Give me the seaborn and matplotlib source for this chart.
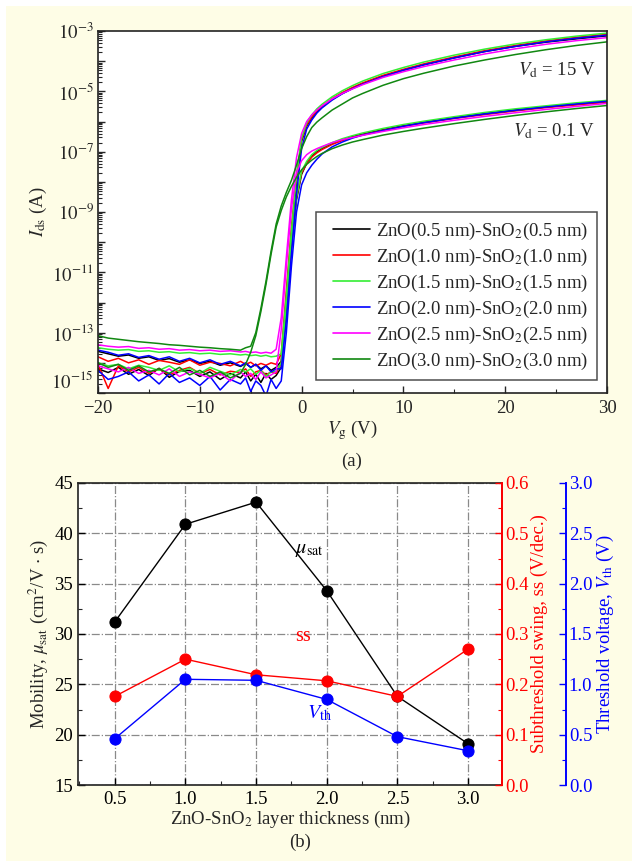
import matplotlib
matplotlib.use("Agg")
import numpy as np
import pandas as pd
import seaborn as sns
import matplotlib.pyplot as plt
import matplotlib.transforms as mtransforms
from matplotlib.lines import Line2D
from matplotlib.patches import Rectangle
from matplotlib.legend_handler import HandlerLine2D
from matplotlib.ticker import FixedLocator, FuncFormatter, MultipleLocator, LogLocator

sns.set_style("ticks")
plt.rcParams["font.family"] = ["Liberation Serif", "DejaVu Serif"]
plt.rcParams["mathtext.fontset"] = "stix"

# ---------------- data: panel (a) -----------------
VG = [-20, -19, -18, -17, -16, -15, -14, -13, -12, -11, -10, -9, -8, -7, -6,
      -5.5, -5, -4.5, -4, -3.5, -3, -2.5, -2, -1.5, -1, -0.5,
      0, 0.5, 1, 1.5, 2, 3, 4, 5, 6, 8, 10, 12, 15, 18, 21, 24, 27, 30]

# log10(Ids)
L05_hi = [-13.62, -13.70, -13.78, -13.74, -13.85, -13.80, -13.92, -13.86, -13.98, -13.90, -14.02, -13.95, -14.08, -14.00, -14.12,
          -14.02, -14.15, -14.05, -14.20, -14.10, -14.25, -14.15, -13.95, -11.9, -9.8, -8.0,
          -6.65, -6.15, -5.88, -5.68, -5.52, -5.27, -5.07, -4.90, -4.75, -4.50, -4.30, -4.12, -3.89, -3.68, -3.51, -3.37, -3.26, -3.16]
L05_lo = [-14.20, -14.32, -14.15, -14.38, -14.22, -14.42, -14.18, -14.48, -14.28, -14.25, -14.45, -14.30, -14.55, -14.35, -14.50,
          -14.30, -14.60, -14.38, -14.65, -14.35, -14.55, -14.42, -14.15, -12.2, -10.1, -8.6,
          -7.75, -7.38, -7.15, -7.00, -6.90, -6.73, -6.60, -6.50, -6.42, -6.27, -6.14, -6.03, -5.88, -5.74, -5.62, -5.52, -5.43, -5.34]
L10_hi = [-13.80, -13.95, -13.85, -14.00, -13.90, -14.05, -13.92, -13.98, -14.05, -13.90, -14.08, -13.98, -14.02, -14.10, -13.95,
          -14.05, -13.98, -14.10, -14.02, -14.08, -14.00, -14.05, -13.70, -11.6, -9.5, -7.8,
          -6.60, -6.12, -5.85, -5.65, -5.50, -5.24, -5.04, -4.87, -4.72, -4.47, -4.27, -4.09, -3.86, -3.65, -3.48, -3.33, -3.21, -3.11]
L10_lo = [-14.05, -14.85, -14.10, -14.30, -14.15, -14.35, -14.20, -14.40, -14.25, -14.15, -14.35, -14.22, -14.40, -14.28, -14.32,
          -14.20, -14.45, -14.30, -14.25, -14.40, -14.30, -14.35, -14.00, -12.0, -9.9, -8.5,
          -7.70, -7.40, -7.18, -7.04, -6.93, -6.76, -6.63, -6.53, -6.44, -6.29, -6.16, -6.05, -5.90, -5.77, -5.65, -5.54, -5.45, -5.36]
L15_hi = [-13.50, -13.55, -13.58, -13.56, -13.62, -13.60, -13.65, -13.63, -13.68, -13.66, -13.70, -13.68, -13.72, -13.70, -13.74,
          -13.72, -13.76, -13.74, -13.78, -13.75, -13.80, -13.78, -13.70, -11.8, -9.6, -7.8,
          -6.55, -6.05, -5.78, -5.58, -5.43, -5.18, -4.98, -4.81, -4.66, -4.41, -4.21, -4.03, -3.80, -3.60, -3.43, -3.29, -3.17, -3.07]
L15_lo = [-14.00, -14.10, -14.05, -14.20, -14.08, -14.15, -14.25, -14.10, -14.30, -14.18, -14.35, -14.15, -14.28, -14.40, -14.22,
          -14.30, -14.20, -14.38, -14.25, -14.45, -14.30, -14.28, -14.00, -12.1, -9.9, -8.5,
          -7.65, -7.32, -7.10, -6.96, -6.86, -6.70, -6.57, -6.47, -6.38, -6.23, -6.10, -5.99, -5.84, -5.70, -5.58, -5.48, -5.38, -5.30]
L20_hi = [-13.58, -13.65, -13.75, -13.70, -13.82, -13.76, -13.88, -13.80, -13.95, -13.85, -14.00, -13.90, -14.05, -13.95, -14.10,
          -14.00, -14.15, -14.05, -14.25, -14.10, -14.30, -14.20, -14.20, -12.6, -10.4, -8.4,
          -6.90, -6.25, -5.95, -5.72, -5.55, -5.29, -5.08, -4.91, -4.76, -4.51, -4.30, -4.12, -3.89, -3.68, -3.51, -3.36, -3.24, -3.14]
L20_lo = [-14.25, -14.55, -14.45, -14.30, -14.60, -14.40, -14.70, -14.35, -14.65, -14.50, -14.75, -14.45, -14.90, -14.55, -14.70,
          -14.50, -14.95, -14.60, -14.75, -15.10, -14.55, -14.85, -14.60, -13.0, -10.8, -9.0,
          -8.10, -7.70, -7.45, -7.25, -7.08, -6.84, -6.68, -6.55, -6.45, -6.30, -6.16, -6.04, -5.89, -5.75, -5.63, -5.52, -5.42, -5.33]
L25_hi = [-13.40, -13.45, -13.48, -13.46, -13.52, -13.50, -13.55, -13.53, -13.58, -13.56, -13.60, -13.58, -13.62, -13.60, -13.64,
          -13.62, -13.66, -13.64, -13.68, -13.65, -13.68, -13.55, -12.5, -10.5, -8.6, -7.2,
          -6.40, -6.00, -5.78, -5.62, -5.48, -5.25, -5.07, -4.92, -4.78, -4.54, -4.35, -4.18, -3.96, -3.76, -3.59, -3.44, -3.32, -3.22]
L25_lo = [-14.10, -14.20, -14.30, -14.15, -14.35, -14.25, -14.40, -14.20, -14.45, -14.30, -14.38, -14.50, -14.35, -14.60, -14.30,
          -14.45, -14.35, -14.55, -14.30, -14.50, -14.40, -14.30, -12.9, -10.8, -8.9, -7.7,
          -7.30, -7.10, -6.98, -6.90, -6.83, -6.70, -6.60, -6.53, -6.46, -6.33, -6.21, -6.10, -5.96, -5.83, -5.71, -5.60, -5.50, -5.40]
L30_hi = [-13.10, -13.18, -13.22, -13.26, -13.30, -13.33, -13.36, -13.40, -13.42, -13.45, -13.48, -13.50, -13.53, -13.55, -13.58,
          -13.50, -13.45, -13.00, -12.20, -11.30, -10.30, -9.40, -8.80, -8.35, -7.95, -7.45,
          -6.90, -6.50, -6.20, -6.02, -5.88, -5.62, -5.42, -5.22, -5.07, -4.80, -4.58, -4.40, -4.16, -3.96, -3.78, -3.62, -3.48, -3.36]
L30_lo = [-14.00, -14.15, -14.05, -14.25, -14.10, -14.30, -14.20, -14.35, -14.15, -14.40, -14.25, -14.45, -14.30, -14.50, -14.35,
          -14.05, -13.65, -13.10, -12.30, -11.40, -10.40, -9.50, -8.95, -8.50, -8.15, -7.85,
          -7.60, -7.42, -7.28, -7.16, -7.06, -6.90, -6.78, -6.68, -6.60, -6.45, -6.33, -6.22, -6.07, -5.93, -5.80, -5.68, -5.57, -5.47]

DEVICES = ["ZnO(0.5 nm)-SnO$_2$(0.5 nm)", "ZnO(1.0 nm)-SnO$_2$(1.0 nm)",
           "ZnO(1.5 nm)-SnO$_2$(1.5 nm)", "ZnO(2.0 nm)-SnO$_2$(2.0 nm)",
           "ZnO(2.5 nm)-SnO$_2$(2.5 nm)", "ZnO(3.0 nm)-SnO$_2$(3.0 nm)"]
COLORS = ["#000000", "#FF0000", "#33EE33", "#0000FF", "#FF00FF", "#118811"]
CURVES_HI = [L05_hi, L10_hi, L15_hi, L20_hi, L25_hi, L30_hi]
CURVES_LO = [L05_lo, L10_lo, L15_lo, L20_lo, L25_lo, L30_lo]

# ---------------- data: panel (b) -----------------
THICK = [0.5, 1.0, 1.5, 2.0, 2.5, 3.0]
MOBILITY = [31.2, 40.9, 43.1, 34.3, 23.8, 19.1]
SS = [0.176, 0.250, 0.219, 0.207, 0.176, 0.270]
VTH = [0.46, 1.05, 1.04, 0.85, 0.48, 0.34]

# ---------------- figure -----------------
W, H = 632, 861
BG = "#FEFDE6"
fig = plt.figure(figsize=(W / 100, H / 100), dpi=100)
fig.patch.set_facecolor("white")
fig.add_artist(Rectangle((6 / W, 0), 1, 1 - 6 / H, transform=fig.transFigure,
                         facecolor=BG, edgecolor="none", zorder=-10))

FS = 13.5

# ---------- panel (a)
axa = fig.add_axes([98 / W, 1 - 393 / H, (607 - 98) / W, (393 - 31) / H])
axa.set_facecolor("white")
rows = []
for name, hi, lo in zip(DEVICES, CURVES_HI, CURVES_LO):
    rows.append(pd.DataFrame({"Vg": VG, "Ids": np.power(10.0, hi), "device": name, "Vd": "15"}))
    rows.append(pd.DataFrame({"Vg": VG, "Ids": np.power(10.0, lo), "device": name, "Vd": "0.1"}))
dfa = pd.concat(rows, ignore_index=True)

sns.lineplot(data=dfa, x="Vg", y="Ids", hue="device", units="Vd", estimator=None,
             hue_order=DEVICES, palette=dict(zip(DEVICES, COLORS)), sort=False,
             legend=False, lw=1.1, ax=axa)
axa.set_yscale("log")
axa.set_xlim(-20, 30)
axa.set_ylim(1e-15, 1e-3)
axa.xaxis.set_major_locator(MultipleLocator(10))
axa.xaxis.set_minor_locator(MultipleLocator(5))
axa.yaxis.set_major_locator(FixedLocator(10.0 ** np.arange(-15, -2)))
axa.yaxis.set_minor_locator(LogLocator(base=10, subs=np.arange(2, 10), numticks=100))


def yfmt(v, pos):
    e = int(round(np.log10(v)))
    # the bottom label (10^-15) is drawn separately, lifted off the corner
    return r"$10^{%d}$" % e if (e % 2 and e > -15) else ""


axa.yaxis.set_major_formatter(FuncFormatter(yfmt))
axa.yaxis.set_minor_formatter(FuncFormatter(lambda v, p: ""))
axa.tick_params(axis="both", which="major", direction="in", length=5, width=1,
                labelsize=FS, top=False, right=False)
axa.tick_params(axis="x", which="major", pad=5)
axa.tick_params(axis="y", which="major", pad=3)
axa.tick_params(axis="both", which="minor", direction="in", length=3, width=0.8,
                top=False, right=False)
for s in axa.spines.values():
    s.set_linewidth(1.2)
    s.set_color("#222222")
blend = mtransforms.blended_transform_factory(axa.transAxes, axa.transData)
axa.text(-0.0095, 10 ** -14.62, r"$10^{-15}$", transform=blend, ha="right", va="center",
         fontsize=FS)
axa.set_xlabel(r"$V_{\rm g}$ (V)", fontsize=FS, labelpad=1)
axa.set_ylabel(r"$I_{\rm ds}$ (A)", fontsize=FS, labelpad=2)
axa.text(28.9, 10 ** -4.29, r"$V_{\rm d}$ = 15 V", ha="right", va="center", fontsize=13.5)
axa.text(28.9, 10 ** -6.31, r"$V_{\rm d}$ = 0.1 V", ha="right", va="center", fontsize=13.5)
handles = [Line2D([0], [0], color=c, lw=1.2) for c in COLORS]
leg = axa.legend(handles, DEVICES, loc="upper right", bbox_to_anchor=(0.98, 0.5),
                 fontsize=FS, frameon=True, fancybox=False, handlelength=2.45,
                 handletextpad=0.32, labelspacing=0.26, borderpad=0.45, borderaxespad=0,
                 handler_map={Line2D: HandlerLine2D(xpad=0.45)})
leg.get_frame().set_edgecolor("#222222")
leg.get_frame().set_linewidth(1.1)
fig.text(352 / W, 1 - 461 / H, "(a)", ha="center", va="center", fontsize=FS)

# ---------- panel (b)
axb = fig.add_axes([78 / W, 1 - 785 / H, (502 - 78) / W, (785 - 483) / H])
axb.set_facecolor("white")
ax2 = axb.twinx()
ax3 = axb.twinx()
ax3.spines["right"].set_position(("axes", (566 - 78) / (502 - 78)))
for k in ("left", "top", "bottom"):
    ax3.spines[k].set_visible(False)

dfb = pd.DataFrame({"thickness": THICK, "mobility": MOBILITY, "ss": SS, "vth": VTH})
axb.grid(True, which="major", color="#8a8a8a", linestyle="-.", lw=0.9)
axb.set_axisbelow(True)
sns.lineplot(data=dfb, x="thickness", y="mobility", ax=axb, color="black", lw=1.0,
             marker="o", markersize=8, markeredgecolor="black")
sns.lineplot(data=dfb, x="thickness", y="ss", ax=ax2, color="#FF0000", lw=1.0,
             marker="o", markersize=8, markeredgecolor="#FF0000")
sns.lineplot(data=dfb, x="thickness", y="vth", ax=ax3, color="#0000FF", lw=1.0,
             marker="o", markersize=8, markeredgecolor="#0000FF")

axb.set_xlim(0.24, 3.24)
axb.set_ylim(15, 45)
ax2.set_ylim(0, 0.6)
ax3.set_ylim(0, 3.0)
axb.xaxis.set_major_locator(FixedLocator(THICK))
axb.xaxis.set_minor_locator(MultipleLocator(0.25))
axb.xaxis.set_major_formatter(FuncFormatter(lambda v, p: "%.1f" % v))
axb.yaxis.set_major_locator(MultipleLocator(5))
axb.yaxis.set_minor_locator(MultipleLocator(2.5))
ax2.yaxis.set_major_locator(MultipleLocator(0.1))
ax2.yaxis.set_minor_locator(MultipleLocator(0.05))
ax2.yaxis.set_major_formatter(FuncFormatter(lambda v, p: "%.1f" % v))
ax3.yaxis.set_major_locator(MultipleLocator(0.5))
ax3.yaxis.set_minor_locator(MultipleLocator(0.25))
ax3.yaxis.set_major_formatter(FuncFormatter(lambda v, p: "%.1f" % v))

axb.tick_params(axis="both", which="major", direction="in", length=5, width=1,
                labelsize=FS, top=False, right=False, colors="black")
axb.tick_params(axis="x", which="major", pad=4)
axb.tick_params(axis="both", which="minor", direction="in", length=3, width=0.8,
                top=False, right=False)
ax2.tick_params(axis="y", which="major", direction="in", length=5, width=1,
                labelsize=FS, colors="#FF0000", pad=2)
ax2.tick_params(axis="y", which="minor", direction="in", length=3, width=0.8, colors="#FF0000")
ax3.tick_params(axis="y", which="major", direction="in", length=5, width=1,
                labelsize=FS, colors="#0000FF", pad=2)
ax3.tick_params(axis="y", which="minor", direction="in", length=3, width=0.8, colors="#0000FF")
for s in axb.spines.values():
    s.set_linewidth(1.2)
    s.set_color("#222222")
ax2.spines["right"].set_color("#FF0000")
ax2.spines["right"].set_linewidth(1.4)
ax3.spines["right"].set_color("#0000FF")
ax3.spines["right"].set_linewidth(1.4)
for k in ("left", "top", "bottom"):
    ax2.spines[k].set_visible(False)

axb.set_xlabel("ZnO-SnO$_2$ layer thickness (nm)", fontsize=FS, labelpad=1)
axb.set_ylabel(r"Mobility, $\mu_{\rm sat}$ (cm$^2$/V $\cdot$ s)", fontsize=FS, labelpad=3)
ax2.set_ylabel("Subthreshold swing, ss (V/dec.)", fontsize=FS, color="#FF0000", labelpad=2)
ax3.set_ylabel(r"Threshold voltage, $V_{\rm th}$ (V)", fontsize=FS, color="#0000FF", labelpad=2)

axb.text(1.88, 38.4, r"$\mu_{\rm sat}$", ha="center", va="center", fontsize=FS + 1, color="black")
axb.text(1.83, 29.8, "ss", ha="center", va="center", fontsize=FS + 1, color="#FF0000")
axb.text(1.95, 22.1, r"$V_{\rm th}$", ha="center", va="center", fontsize=FS + 1, color="#0000FF")
fig.text(300 / W, 1 - 842 / H, "(b)", ha="center", va="center", fontsize=FS)

fig.savefig("out.png", dpi=100, facecolor=fig.get_facecolor())
